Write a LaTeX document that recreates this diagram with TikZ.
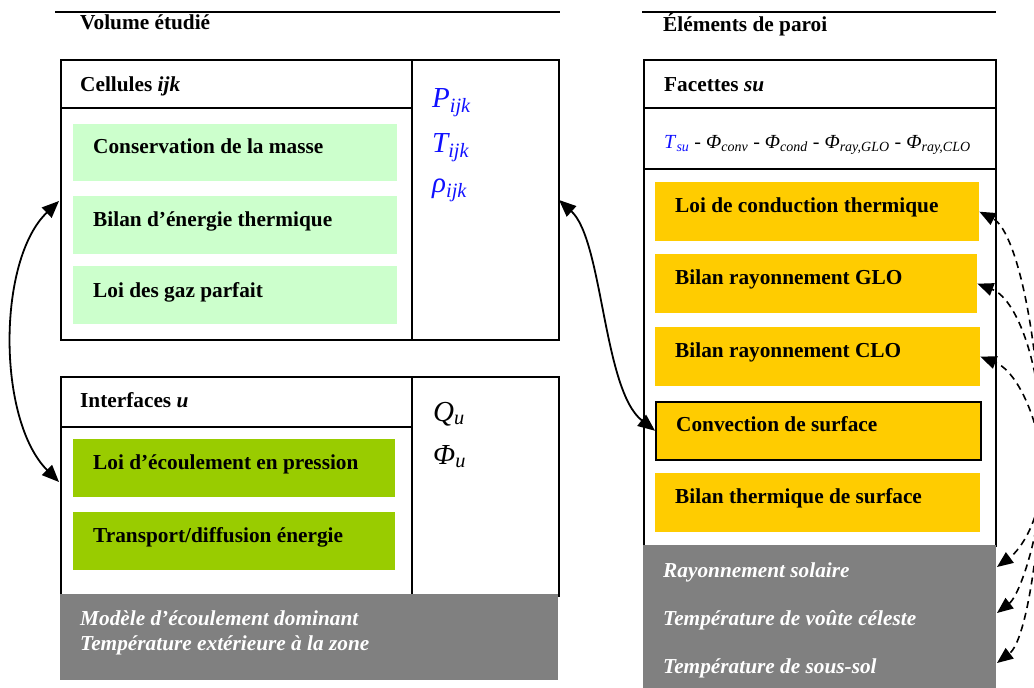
\documentclass[tikz,border=0pt]{standalone}
\usepackage{fontspec}
\setmainfont{Liberation Serif}
\usetikzlibrary{arrows.meta}
\definecolor{lgreen}{HTML}{CCFFCC}
\definecolor{dgreen}{HTML}{99CC00}
\definecolor{gold}{HTML}{FFCC00}
\definecolor{greyfill}{HTML}{808080}
\definecolor{varblue}{HTML}{1010FF}
\tikzset{
  frame/.style={draw=black, line width=2pt, anchor=north west, inner sep=0pt},
  rule/.style={draw=black, line width=2pt},
  fbox/.style={anchor=north west, inner sep=0pt, draw=none, minimum height=58pt},
  lbl/.style={anchor=base west, inner sep=0pt, font=\fontsize{21.3}{25}\selectfont\bfseries},
  glbl/.style={anchor=base west, inner sep=0pt, text=white, font=\fontsize{21.3}{25}\selectfont\bfseries\itshape},
  var/.style={anchor=base west, inner sep=0pt, font=\fontsize{29}{33}\selectfont\itshape},
  conn/.style={line width=1.8pt, {Triangle[length=17pt,width=14pt]}-{Triangle[length=17pt,width=14pt]}},
  dconn/.style={line width=1.6pt, dash pattern=on 7pt off 5pt, -{Triangle[length=16pt,width=13pt]}}
}
\begin{document}
\begin{tikzpicture}[x=1pt,y=-1pt]
\useasboundingbox (0,0) rectangle (1034,688);
\clip (0,0) rectangle (1034,688);

% ---------- left: Volume etudie ----------
\draw[rule] (55,12) -- (560,12);
\node[lbl] (vol) at (80,30) {Volume étudié};

% Cellules
\node[frame, minimum width=498pt, minimum height=280pt] (cellbox) at (60,59) {};
\draw[rule] (412,59) -- (412,339);
\draw[rule] (60,108) -- (412,108);
\node[lbl] (cellhdr) at (80,91) {Cellules \textit{ijk}};
\node[fbox, fill=lgreen, minimum width=324pt, minimum height=57pt] (cons) at (73,124) {};
\node[fbox, fill=lgreen, minimum width=324pt] (bilE) at (73,196) {};
\node[fbox, fill=lgreen, minimum width=324pt] (gaz) at (73,266) {};
\node[lbl] (tcons) at (93,153) {Conservation de la masse};
\node[lbl] (tbilE) at (93,226) {Bilan d’énergie thermique};
\node[lbl] (tgaz) at (93,297) {Loi des gaz parfait};
\node[var, text=varblue] (P) at (432,107) {P\textsubscript{ijk}};
\node[var, text=varblue] (T) at (432,152) {T\textsubscript{ijk}};
\node[var, text=varblue] (rho) at (432,192) {ρ\textsubscript{ijk}};

% Interfaces
\node[frame, minimum width=498pt, minimum height=219pt] (intbox) at (60,376) {};
\draw[rule] (412,376) -- (412,595);
\draw[rule] (60,427) -- (412,427);
\node[lbl] (inthdr) at (80,407) {Interfaces \textit{u}};
\node[fbox, fill=dgreen, minimum width=322pt] (ecou) at (73,439) {};
\node[fbox, fill=dgreen, minimum width=322pt] (trans) at (73,512) {};
\node[lbl] (tecou) at (93,469) {Loi d’écoulement en pression};
\node[lbl] (ttrans) at (93,542) {Transport/diffusion énergie};
\node[var] (Q) at (433,421) {Q\textsubscript{u}};
\node[var] (Phi) at (433,464) {Φ\textsubscript{u}};

% grey left
\node[fbox, fill=greyfill, minimum width=498pt, minimum height=86pt] (extL) at (60,594) {};
\node[glbl] (mod1) at (80,625) {Modèle d’écoulement dominant};
\node[glbl] (mod2) at (80,650) {Température extérieure à la zone};

% ---------- right: Elements de paroi ----------
\draw[rule] (642,12) -- (996,12);
\node[lbl] (elem) at (663,31) {Éléments de paroi};
\node[frame, minimum width=352pt, minimum height=486pt] (facbox) at (643,59) {};
\draw[rule] (643,108) -- (995,108);
\draw[rule] (643,169) -- (995,169);
\node[lbl] (fachdr) at (664,91) {Facettes \textit{su}};
\node[anchor=base west, inner sep=0pt, font=\fontsize{20}{24}\selectfont] (flux) at (664,148)
  {{\color{varblue}\textit{T}\textsubscript{\textit{su}}} - \textit{Φ}\textsubscript{\textit{conv}} - \textit{Φ}\textsubscript{\textit{cond}} - \textit{Φ}\textsubscript{\textit{ray,GLO}} - \textit{Φ}\textsubscript{\textit{ray,CLO}}};
\node[fbox, fill=gold, minimum width=324pt, minimum height=59pt] (lcond) at (655,182) {};
\node[fbox, fill=gold, minimum width=322pt, minimum height=59pt] (glo) at (655,254) {};
\node[fbox, fill=gold, minimum width=325pt, minimum height=59pt] (clo) at (655,327) {};
\node[fbox, fill=gold, draw=black, line width=1.5pt, minimum width=325pt, minimum height=58pt] (conv) at (655,401) {};
\node[fbox, fill=gold, minimum width=325pt, minimum height=59pt] (bth) at (655,473) {};
\node[lbl] (tlcond) at (675,212) {Loi de conduction thermique};
\node[lbl] (tglo) at (675,284) {Bilan rayonnement GLO};
\node[lbl] (tclo) at (675,357) {Bilan rayonnement CLO};
\node[lbl] (tconv) at (676,431) {Convection de surface};
\node[lbl] (tbth) at (675,503) {Bilan thermique de surface};

% grey right
\node[fbox, fill=greyfill, minimum width=353pt, minimum height=143pt] (extR) at (643,545) {};
\node[glbl] (sol) at (663,577) {Rayonnement solaire};
\node[glbl] (voute) at (663,625) {Température de voûte céleste};
\node[glbl] (sous) at (663,673) {Température de sous-sol};

% ---------- connectors ----------
\coordinate (la) at (59,201);
\coordinate (lb) at (59,482);
\draw[conn] (la) .. controls (-3,260) and (-3,420) .. (lb);
\coordinate (ma) at (559,200);
\draw[conn] (ma) .. controls (603,240) and (603,390) .. (conv.west);

\coordinate (src) at (1042,470);
\coordinate (s1) at (997,567);
\coordinate (s2) at (997,613);
\coordinate (s3) at (997,663);
\draw[dconn] (src) .. controls (1040,330) and (1015,230) .. (lcond.east);
\draw[dconn] (src) .. controls (1046,380) and (1020,300) .. (glo.east);
\draw[dconn] (src) .. controls (1042,430) and (1020,372) .. (clo.east);
\draw[dconn] (src) .. controls (1042,520) and (1020,550) .. (s1);
\draw[dconn] (src) .. controls (1042,530) and (1020,595) .. (s2);
\draw[dconn] (src) .. controls (1040,540) and (1027,640) .. (s3);
\end{tikzpicture}
\end{document}
